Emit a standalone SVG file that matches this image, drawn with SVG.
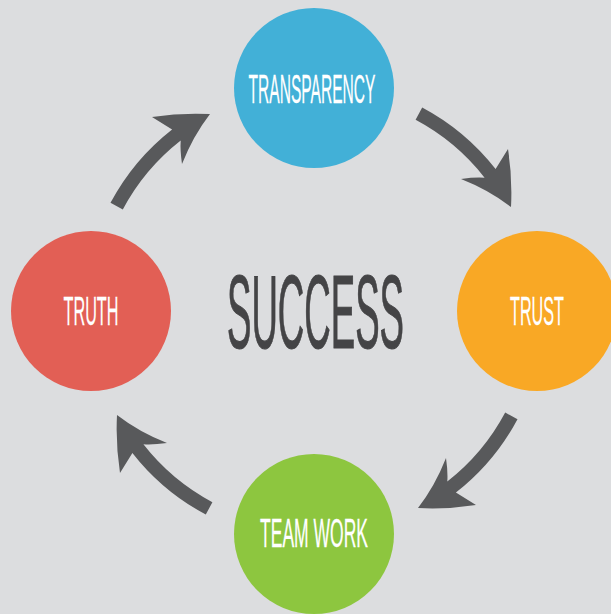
<svg xmlns="http://www.w3.org/2000/svg" width="611" height="614" viewBox="0 0 611 614">
<defs>
<style>
.bg{fill:#dcdddf}
.lbl{font-family:"Liberation Sans","Arial",sans-serif;font-size:41px;fill:#ffffff;stroke:#ffffff;stroke-width:0.2px;text-anchor:middle}
.arrow{fill:#58595b}
.title{font-family:"Liberation Sans","Arial",sans-serif;font-size:103px;fill:#444446;stroke:#444446;stroke-width:0.8px;text-anchor:middle}
</style>
<path id="arr" class="arrow" d="M110.5,202.8 A230.5,230.5 0 0 1 172.1,129.4 L152,117 Q181,112.5 210,114 Q193,136 182,164 Q180,150 180.7,140.4 A216.5,216.5 0 0 0 122.8,209.4 Z"/>
</defs>
<rect class="bg" x="0" y="0" width="611" height="614"/>
<g id="connectors">
<use href="#arr"/>
<use href="#arr" transform="rotate(90 314 311)"/>
<use href="#arr" transform="rotate(180 314 311)"/>
<use href="#arr" transform="rotate(270 314 311)"/>
</g>
<g id="transparency">
<circle cx="314" cy="88" r="80" fill="#42b0d7"/>
<text class="lbl" transform="translate(312 103) scale(0.38 1)" vector-effect="non-scaling-stroke">TRANSPARENCY</text>
</g>
<g id="trust">
<circle cx="537" cy="311" r="80" fill="#f9a825"/>
<text class="lbl" transform="translate(537 325) scale(0.395 1)" vector-effect="non-scaling-stroke">TRUST</text>
</g>
<g id="teamwork">
<circle cx="314" cy="534" r="80" fill="#8dc63f"/>
<text class="lbl" transform="translate(314 547) scale(0.427 1)" vector-effect="non-scaling-stroke">TEAM WORK</text>
</g>
<g id="truth">
<circle cx="91" cy="311" r="80" fill="#e25f55"/>
<text class="lbl" transform="translate(91 325) scale(0.396 1)" vector-effect="non-scaling-stroke">TRUTH</text>
</g>
<g id="success">
<text class="title" transform="translate(315.5 348) scale(0.3555 1)" vector-effect="non-scaling-stroke">SUCCESS</text>
</g>
</svg>
